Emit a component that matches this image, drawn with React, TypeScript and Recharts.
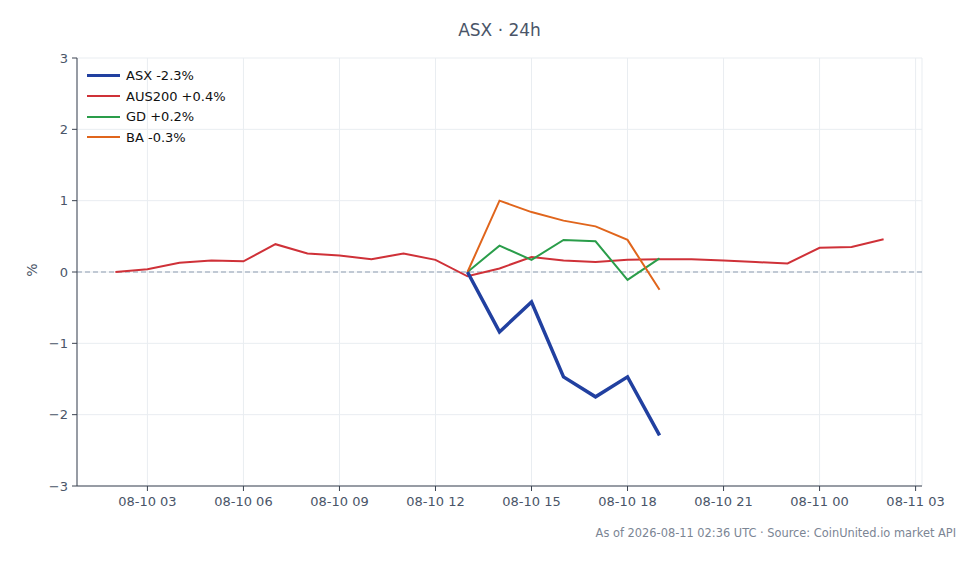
import React from 'react';
import { LineChart, Line, XAxis, YAxis, CartesianGrid, ReferenceLine } from 'recharts';

// hours counted from 08-10 00:00 UTC
const HOURS = [2, 3, 4, 5, 6, 7, 8, 9, 10, 11, 12, 13, 14, 15, 16, 17, 18, 19, 20, 21, 22, 23, 24, 25, 26];
const AUS200 = [0.0, 0.04, 0.13, 0.16, 0.15, 0.39, 0.26, 0.23, 0.18, 0.26, 0.17, -0.06, 0.05, 0.21, 0.16, 0.14, 0.17, 0.18, 0.18, 0.16, 0.14, 0.12, 0.34, 0.35, 0.46];
const SHORT_HOURS = [13, 14, 15, 16, 17, 18, 19];
const ASX = [0.0, -0.84, -0.42, -1.47, -1.75, -1.47, -2.29];
const GD = [0.0, 0.37, 0.17, 0.45, 0.43, -0.11, 0.19];
const BA = [0.0, 1.0, 0.84, 0.72, 0.64, 0.45, -0.25];

const X_TICKS = [3, 6, 9, 12, 15, 18, 21, 24, 27];
const Y_TICKS = [-3, -2, -1, 0, 1, 2, 3];

const SERIES = [
  { key: 'ASX', label: 'ASX -2.3%', color: '#2140a0', width: 3.5 },
  { key: 'AUS200', label: 'AUS200 +0.4%', color: '#cf3138', width: 2 },
  { key: 'GD', label: 'GD +0.2%', color: '#2a9d4a', width: 2 },
  { key: 'BA', label: 'BA -0.3%', color: '#e0651c', width: 2 },
];

const data = HOURS.map((h, i) => {
  const j = SHORT_HOURS.indexOf(h);
  return {
    hour: h,
    AUS200: AUS200[i],
    ASX: j >= 0 ? ASX[j] : null,
    GD: j >= 0 ? GD[j] : null,
    BA: j >= 0 ? BA[j] : null,
  };
});

const FONT = '"DejaVu Sans", sans-serif';
const TEXT = '#4a5568';
const AXIS = '#3b4350';

const fmtX = (h: number) => {
  const day = h >= 24 ? '08-11' : '08-10';
  const hh = String(h % 24).padStart(2, '0');
  return `${day} ${hh}`;
};
const fmtY = (v: number) => (v < 0 ? `\u2212${Math.abs(v)}` : `${v}`);

export default function App() {
  return (
    <div style={{ position: 'absolute', left: 0, top: 0, width: 980, height: 564, background: '#fff', fontFamily: FONT }}>
      <LineChart
        width={980}
        height={564}
        data={data}
        margin={{ top: 58, right: 58, bottom: 48, left: 17 }}
      >
        <CartesianGrid stroke="#e9edf1" strokeWidth={1} />
        <XAxis
          dataKey="hour"
          type="number"
          domain={[0.8, 27.2]}
          ticks={X_TICKS}
          tickFormatter={fmtX}
          height={30}
          tickSize={5}
          tickMargin={6}
          stroke={AXIS}
          tick={{ fill: TEXT, fontSize: 13, fontFamily: FONT }}
        />
        <YAxis
          type="number"
          domain={[-3, 3]}
          ticks={Y_TICKS}
          tickFormatter={fmtY}
          width={60}
          tickSize={5}
          tickMargin={4}
          stroke={AXIS}
          tick={{ fill: TEXT, fontSize: 13, fontFamily: FONT }}
        />
        <ReferenceLine y={0} stroke="#8d9cb0" strokeDasharray="5 3" strokeWidth={1} />
        <Line dataKey="AUS200" stroke="#cf3138" strokeWidth={2} dot={false} connectNulls isAnimationActive={false} />
        <Line dataKey="GD" stroke="#2a9d4a" strokeWidth={2} dot={false} isAnimationActive={false} />
        <Line dataKey="BA" stroke="#e0651c" strokeWidth={2} dot={false} isAnimationActive={false} />
        <Line dataKey="ASX" stroke="#2140a0" strokeWidth={3.5} dot={false} isAnimationActive={false} />
      </LineChart>
      <div style={{ position: 'absolute', left: 0, width: 999, top: 20, textAlign: 'center', fontSize: 17, color: TEXT }}>
        ASX · 24h
      </div>
      <div
        style={{
          position: 'absolute',
          left: 25,
          top: 262,
          fontSize: 14,
          color: TEXT,
          transform: 'rotate(-90deg)',
        }}
      >
        %
      </div>
      <div style={{ position: 'absolute', right: 24, top: 526, fontSize: 11.4, color: '#7b8594' }}>
        As of 2026-08-11 02:36 UTC · Source: CoinUnited.io market API
      </div>
      <div style={{ position: 'absolute', left: 87, top: 65, fontFamily: FONT, fontSize: 13, color: '#111' }}>
        {SERIES.map((s) => (
          <div key={s.key} style={{ display: 'flex', alignItems: 'center', height: 20.7 }}>
            <div style={{ width: 33, height: s.width, background: s.color, marginRight: 6 }} />
            <span>{s.label}</span>
          </div>
        ))}
      </div>
    </div>
  );
}
